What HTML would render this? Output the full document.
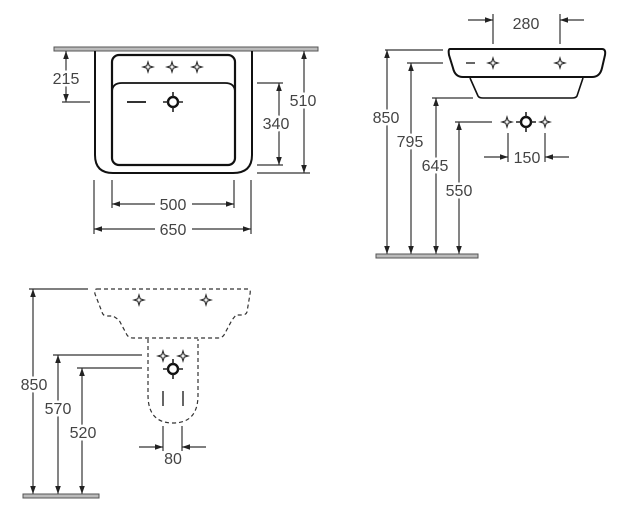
<!DOCTYPE html>
<html><head><style>
html,body{margin:0;padding:0;background:#fff;}
svg{display:block;}
text{font-family:"Liberation Sans",sans-serif;font-size:16px;fill:#444;stroke:#fff;stroke-width:5px;paint-order:stroke;stroke-linejoin:round;}
</style></head><body>
<svg width="624" height="515" viewBox="0 0 624 515" xmlns="http://www.w3.org/2000/svg">
<defs>
<marker id="a" viewBox="0 0 10 10" refX="10" refY="5" markerWidth="8" markerHeight="8" orient="auto-start-reverse" markerUnits="userSpaceOnUse"><path d="M0,1.5 L10,5 L0,8.5 z" fill="#222"/></marker>
<g id="tap"><path d="M0,-5 L1.2,-1.2 L5,0 L1.2,1.2 L0,5 L-1.2,1.2 L-5,0 L-1.2,-1.2 Z" fill="none" stroke="#333" stroke-width="1.2"/></g>
<g id="drain"><circle r="5" fill="none" stroke="#111" stroke-width="2.4"/><path d="M0,-10 V-5 M0,5 V10 M-10,0 H-5 M5,0 H10" stroke="#222" stroke-width="1.6"/></g>
</defs>
<g stroke="#333" stroke-width="1.2" fill="none">
<!-- TOP LEFT -->
<rect x="54" y="47" width="264" height="4" fill="#bbb" stroke="#555" stroke-width="1"/>
<path d="M95,51 V155 Q95,173 113,173 H233 Q252,173 252,155 V51" stroke="#111" stroke-width="2"/>
<rect x="112" y="55" width="123" height="110" rx="7" stroke="#111" stroke-width="2.2"/>
<path d="M112,92 Q112,83 122,83 H225 Q235,83 235,92" stroke="#111" stroke-width="1.8"/>
<line x1="127" y1="102" x2="146" y2="102" stroke-width="2"/>
<line x1="62" y1="102" x2="90" y2="102"/>
<line x1="66" y1="51" x2="66" y2="102" marker-start="url(#a)" marker-end="url(#a)"/>
<line x1="257" y1="83" x2="283" y2="83"/><line x1="257" y1="165" x2="283" y2="165"/>
<line x1="279" y1="83" x2="279" y2="165" marker-start="url(#a)" marker-end="url(#a)"/>
<line x1="257" y1="173" x2="310" y2="173"/>
<line x1="304" y1="51" x2="304" y2="173" marker-start="url(#a)" marker-end="url(#a)"/>
<line x1="112" y1="180" x2="112" y2="208"/><line x1="234" y1="180" x2="234" y2="208"/>
<line x1="112" y1="204" x2="155" y2="204" marker-start="url(#a)"/><line x1="192" y1="204" x2="234" y2="204" marker-end="url(#a)"/>
<line x1="94" y1="180" x2="94" y2="234"/><line x1="251" y1="180" x2="251" y2="234"/>
<line x1="94" y1="229" x2="155" y2="229" marker-start="url(#a)"/><line x1="192" y1="229" x2="251" y2="229" marker-end="url(#a)"/>
<!-- TOP RIGHT -->
<path d="M450,49 H602 Q606,49 605,55 L602,68 Q600,77 592,77 H463 Q455,77 453,68 L449,55 Q448,49 450,49 Z" stroke="#111" stroke-width="2"/>
<path d="M470,78 L478,96 Q479,98 483,98 H572 Q576,98 577,96 L583,78" stroke="#111" stroke-width="1.6"/>
<line x1="466" y1="63" x2="475" y2="63" stroke-width="1.5"/>
<line x1="493" y1="14" x2="493" y2="44"/><line x1="560" y1="14" x2="560" y2="44"/>
<line x1="468" y1="20" x2="493" y2="20" marker-end="url(#a)"/><line x1="584" y1="20" x2="560" y2="20" marker-end="url(#a)"/>
<line x1="385" y1="50" x2="443" y2="50"/>
<line x1="387" y1="50" x2="387" y2="254" marker-start="url(#a)" marker-end="url(#a)"/>
<line x1="407" y1="63" x2="443" y2="63"/>
<line x1="411" y1="63" x2="411" y2="254" marker-start="url(#a)" marker-end="url(#a)"/>
<line x1="432" y1="98" x2="473" y2="98"/>
<line x1="436" y1="98" x2="436" y2="254" marker-start="url(#a)" marker-end="url(#a)"/>
<line x1="455" y1="122" x2="492" y2="122"/>
<line x1="459" y1="122" x2="459" y2="254" marker-start="url(#a)" marker-end="url(#a)"/>
<line x1="508" y1="133" x2="508" y2="162"/><line x1="545" y1="133" x2="545" y2="162"/>
<line x1="484" y1="157" x2="508" y2="157" marker-end="url(#a)"/><line x1="569" y1="157" x2="545" y2="157" marker-end="url(#a)"/>
<rect x="376" y="254" width="102" height="4" fill="#bbb" stroke="#555" stroke-width="1"/>
<!-- BOTTOM LEFT -->
<path d="M97,289 H248 Q251,289 250,294 L247,312 Q246,315 242,315 H236 L232,320 L224,335 Q222,338 218,338 H133 Q129,338 127,335 L119,320 L113,316 H107 Q103,316 102,312 L95,294 Q94,289 97,289 Z" stroke-dasharray="4,3"/>
<path d="M148,339 V395 Q148,423 173,423 Q198,423 198,395 V339" stroke-dasharray="4,3"/>
<line x1="163" y1="391" x2="163" y2="406" stroke-width="1.5"/><line x1="183" y1="391" x2="183" y2="406" stroke-width="1.5"/>
<line x1="29" y1="289" x2="88" y2="289"/>
<line x1="33" y1="289" x2="33" y2="494" marker-start="url(#a)" marker-end="url(#a)"/>
<line x1="53" y1="355" x2="142" y2="355"/>
<line x1="58" y1="355" x2="58" y2="494" marker-start="url(#a)" marker-end="url(#a)"/>
<line x1="77" y1="368" x2="142" y2="368"/>
<line x1="82" y1="368" x2="82" y2="494" marker-start="url(#a)" marker-end="url(#a)"/>
<line x1="163" y1="426" x2="163" y2="451"/><line x1="182" y1="426" x2="182" y2="451"/>
<line x1="139" y1="447" x2="163" y2="447" marker-end="url(#a)"/><line x1="206" y1="447" x2="182" y2="447" marker-end="url(#a)"/>
<rect x="23" y="494" width="76" height="4" fill="#bbb" stroke="#555" stroke-width="1"/>
</g>
<use href="#tap" x="148" y="67"/><use href="#tap" x="172" y="67"/><use href="#tap" x="197" y="67"/>
<use href="#drain" x="173" y="102"/>
<use href="#tap" x="493" y="63"/><use href="#tap" x="560" y="63"/>
<use href="#tap" x="507" y="122"/><use href="#tap" x="545" y="122"/>
<use href="#drain" x="526" y="122"/>
<use href="#tap" x="139" y="300"/><use href="#tap" x="206" y="300"/>
<use href="#tap" x="163" y="356"/><use href="#tap" x="183" y="356"/>
<use href="#drain" x="173" y="369"/>
<text x="66" y="84" text-anchor="middle">215</text>
<text x="276" y="129" text-anchor="middle">340</text>
<text x="303" y="106" text-anchor="middle">510</text>
<text x="173" y="210" text-anchor="middle">500</text>
<text x="173" y="235" text-anchor="middle">650</text>
<text x="526" y="29" text-anchor="middle">280</text>
<text x="386" y="123" text-anchor="middle">850</text>
<text x="410" y="147" text-anchor="middle">795</text>
<text x="435" y="171" text-anchor="middle">645</text>
<text x="459" y="196" text-anchor="middle">550</text>
<text x="527" y="163" text-anchor="middle">150</text>
<text x="34" y="390" text-anchor="middle">850</text>
<text x="58" y="414" text-anchor="middle">570</text>
<text x="83" y="438" text-anchor="middle">520</text>
<text x="173" y="464" text-anchor="middle">80</text>
</svg>
</body></html>
